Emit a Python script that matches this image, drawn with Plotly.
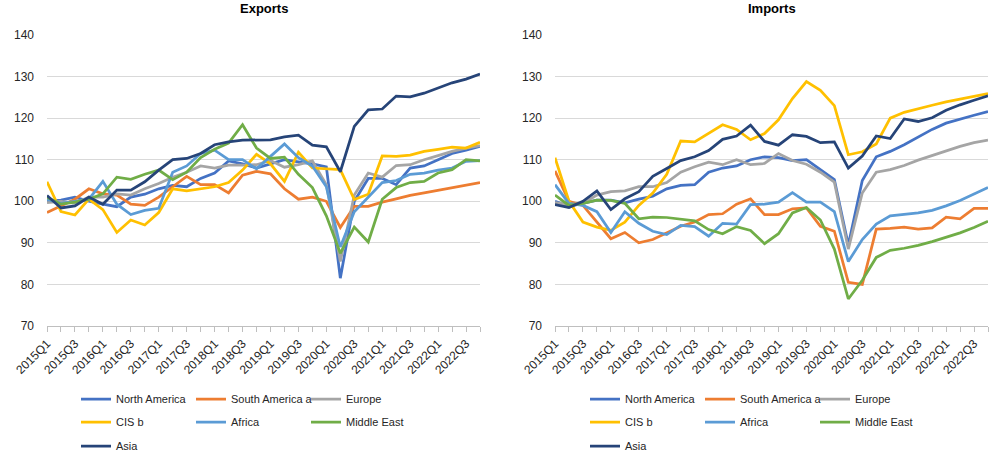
import plotly.graph_objects as go

quarters = ["2015Q1", "2015Q2", "2015Q3", "2015Q4", "2016Q1", "2016Q2", "2016Q3", "2016Q4",
            "2017Q1", "2017Q2", "2017Q3", "2017Q4", "2018Q1", "2018Q2", "2018Q3", "2018Q4",
            "2019Q1", "2019Q2", "2019Q3", "2019Q4", "2020Q1", "2020Q2", "2020Q3", "2020Q4",
            "2021Q1", "2021Q2", "2021Q3", "2021Q4", "2022Q1", "2022Q2", "2022Q3", "2022Q4"]
tick_labels = [q if i % 2 == 0 else "" for i, q in enumerate(quarters)]

series_names = ["North America", "South America a", "Europe", "CIS b", "Africa", "Middle East", "Asia"]
series_colors = ["#4472C4", "#ED7D31", "#A5A5A5", "#FFC000", "#5B9BD5", "#70AD47", "#264478"]

# Exports
exp_north_america = [100, 100.3, 101, 100, 99.3, 98.7, 101, 101.7, 103, 103.8, 103.5, 105.5, 106.8, 109.7, 109, 108,
                     109, 110, 109.5, 109, 108.3, 81.5, 100, 105.5, 105.5, 104, 108, 108.5, 110, 111.5, 112.3, 113.2]
exp_south_america = [97.3, 99, 100.5, 103, 101.8, 101.5, 99.3, 99, 101, 103.5, 106, 104, 104, 102, 106.3, 107.2,
                     106.6, 103, 100.5, 101, 100, 93.7, 98.8, 98.8, 99.8, 100.6, 101.4, 102, 102.6, 103.3, 103.9, 104.5]
exp_europe = [99.7, 100, 99.5, 101, 101, 101.8, 101.5, 103, 104.3, 105.8, 107, 108.5, 108, 108.7, 108.7, 108.8,
              109.8, 108.2, 108.8, 109.7, 104, 85.5, 101.5, 106.8, 105.8, 108.6, 108.8, 110, 111, 112, 112.8, 113.4]
exp_cis = [104.7, 97.5, 96.7, 100.5, 98, 92.5, 95.5, 94.3, 97.3, 103, 102.5, 103, 103.5, 104.5, 107.5, 111.3,
           109, 104.8, 111.8, 108, 107.8, 107.6, 100.4, 101.7, 110.9, 110.8, 111.1, 112, 112.5, 113, 112.8, 114.2]
exp_africa = [100.5, 99.5, 100, 100.5, 104.8, 99.3, 96.8, 97.8, 98.3, 107, 108.5, 111.5, 112.3, 110, 110, 107.8,
              110.8, 113.8, 110.5, 108.5, 103.5, 89, 97.5, 101, 104.5, 105, 106.5, 106.8, 107.5, 108, 109.6, 109.8]
exp_middle_east = [101, 99.3, 99.8, 100.5, 101.8, 105.8, 105.3, 106.5, 107.5, 105.2, 107, 110.5, 112.5, 114, 118.4, 112.8,
                   110.3, 110.6, 106.5, 103.3, 96.5, 87.5, 93.8, 90.2, 100.5, 103.3, 104.5, 104.8, 106.8, 107.6, 110, 109.7]
exp_asia = [101.4, 98.4, 98.9, 101, 99.3, 102.7, 102.7, 104.7, 107.5, 110, 110.3, 111.5, 113.6, 114.3, 114.7, 114.7,
            114.8, 115.5, 115.9, 113.5, 113.1, 107.1, 118, 122, 122.2, 125.3, 125.1, 126, 127.3, 128.5, 129.4, 130.6]

# Imports
imp_north_america = [100, 98.8, 99.5, 100.3, 100.3, 99.6, 100.5, 101.2, 103, 103.8, 104, 107, 108, 108.5, 110, 110.7,
                     110.5, 109.8, 110, 107.5, 105.2, 89.5, 105, 110.7, 112, 113.6, 115.5, 117.3, 118.8, 119.8, 120.7, 121.6]
imp_south_america = [107.3, 100, 99, 95, 91, 92.5, 90, 90.8, 92.5, 94, 95, 96.8, 97, 99.3, 100.6, 96.8,
                     96.8, 98.2, 98.4, 94, 92.8, 80.5, 80, 93.3, 93.5, 93.8, 93.3, 93.6, 96.2, 95.8, 98.3, 98.3]
imp_europe = [99.7, 99.2, 99.5, 101.5, 102.3, 102.5, 103.5, 103.5, 104.5, 107, 108.3, 109.4, 108.8, 110, 108.8, 109.1,
              111.5, 109.8, 108.9, 107, 104.6, 88.5, 102, 107, 107.6, 108.6, 109.9, 111, 112.1, 113.2, 114.1, 114.7]
imp_cis = [110.5, 100, 95, 93.8, 93, 95, 99, 102, 106.5, 114.5, 114.3, 116.3, 118.4, 117.3, 114.8, 116.3,
           119.6, 124.7, 128.8, 126.7, 123, 111.2, 111.9, 113.8, 120, 121.4, 122.3, 123.1, 123.9, 124.6, 125.3, 125.9]
imp_africa = [104, 99.5, 99, 97.5, 92.5, 97.5, 94.7, 92.8, 92, 94.2, 93.9, 91.6, 94.7, 94.5, 99.2, 99.3,
              99.8, 102.1, 99.8, 99.8, 97.5, 85.5, 90.8, 94.5, 96.5, 96.8, 97.2, 97.8, 98.9, 100.2, 101.7, 103.3]
imp_middle_east = [101.5, 99, 99.5, 100.3, 100.2, 99.5, 95.8, 96.2, 96.1, 95.7, 95.3, 93.2, 92.2, 93.9, 93, 89.8,
                   92.2, 97.2, 98.5, 95.5, 88.5, 76.5, 81, 86.5, 88.2, 88.7, 89.4, 90.3, 91.3, 92.4, 93.7, 95.2]
imp_asia = [99.2, 98.5, 100, 102.5, 98, 100.6, 102.3, 106, 107.9, 109.8, 110.7, 112.2, 114.9, 115.7, 118.3, 114.4,
            113.5, 116, 115.6, 114.1, 114.3, 108, 110.9, 115.7, 115.1, 119.8, 119.2, 120.1, 121.9, 123.2, 124.3, 125.4]

exports = [exp_north_america, exp_south_america, exp_europe, exp_cis, exp_africa, exp_middle_east, exp_asia]
imports = [imp_north_america, imp_south_america, imp_europe, imp_cis, imp_africa, imp_middle_east, imp_asia]

FONT = "Liberation Sans"
TEXT = "#262626"
rows_of = [0, 0, 0, 1, 1, 1, 2]  # legend row of each series

fig = go.Figure()
for panel, data in enumerate([exports, imports]):
    xa = "x" if panel == 0 else "x2"
    ya = "y" if panel == 0 else "y2"
    for k, (name, color, vals) in enumerate(zip(series_names, series_colors, data)):
        leg_idx = panel * 3 + rows_of[k] + 1
        fig.add_trace(go.Scatter(
            x=quarters, y=vals, mode="lines", name=name,
            line=dict(color=color, width=2.75),
            xaxis=xa, yaxis=ya,
            legend="legend" if leg_idx == 1 else f"legend{leg_idx}",
            hoverinfo="x+y+name",
        ))

axis_x = dict(type="category", range=[0, 31], tickvals=quarters, ticktext=tick_labels,
              tickangle=-45, ticks="outside", ticklen=5, tickcolor="#BFBFBF",
              showline=True, linecolor="#BFBFBF", linewidth=1, showgrid=False,
              tickfont=dict(family=FONT, size=12, color=TEXT), automargin=False, zeroline=False)
axis_y = dict(range=[70, 140], dtick=10, showgrid=True, gridcolor="#D9D9D9", gridwidth=1,
              showline=False, zeroline=False, ticks="", ticklabelstandoff=12,
              tickfont=dict(family=FONT, size=12, color=TEXT), automargin=False)

L, R, T, B = 47, 12, 35, 131
W, H = 1000, 457
pw = W - L - R
ph = H - T - B
left_dom = [0, (480 - L) / pw]
right_dom = [(555 - L) / pw, 1]

fig.update_layout(
    width=W, height=H,
    margin=dict(l=L, r=R, t=T, b=B, autoexpand=False),
    paper_bgcolor="white", plot_bgcolor="white",
    xaxis=dict(axis_x, domain=left_dom, anchor="y"),
    yaxis=dict(axis_y, domain=[0, 1], anchor="x"),
    xaxis2=dict(axis_x, domain=right_dom, anchor="y2"),
    yaxis2=dict(axis_y, domain=[0, 1], anchor="x2"),
    font=dict(family=FONT, color=TEXT),
    showlegend=True,
)

row_centers = [399, 422, 446]
leg_x_px = [76, 585]
for panel in range(2):
    for r in range(3):
        idx = panel * 3 + r + 1
        key = "legend" if idx == 1 else f"legend{idx}"
        fig.update_layout({key: dict(
            orientation="h", x=(leg_x_px[panel] - L) / pw, xanchor="left",
            y=(T + ph - row_centers[r]) / ph, yanchor="middle",
            entrywidth=70, entrywidthmode="pixels",
            font=dict(family=FONT, size=11, color=TEXT),
            bgcolor="rgba(0,0,0,0)", itemwidth=30, tracegroupgap=0,
        )})

for title, xc in [("Exports", (47 + 480) / 2), ("Imports", (555 + 988) / 2)]:
    fig.add_annotation(text=f"<b>{title}</b>", xref="paper", yref="paper",
                       x=(xc - L) / pw, y=(T + ph - 8) / ph, xanchor="center", yanchor="middle",
                       showarrow=False, font=dict(family=FONT, size=13, color="#000000"))

fig.write_html("out.html", config={"displayModeBar": False},
               post_script="document.body.style.margin='0';")
